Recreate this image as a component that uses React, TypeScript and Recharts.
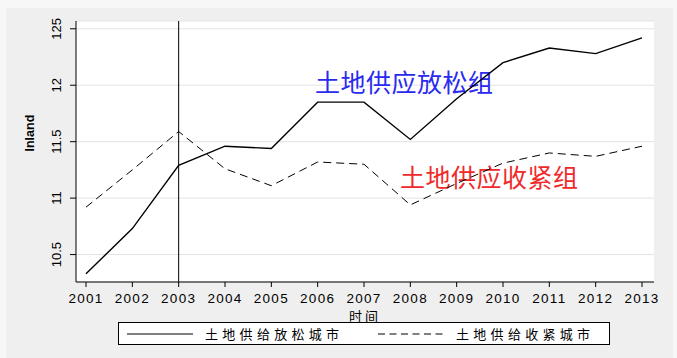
import React from "react";
import { LineChart, Line, XAxis, YAxis, CartesianGrid, ReferenceLine } from "recharts";

// 数据：年份与两组城市的 lnland 均值
const years = ["2001", "2002", "2003", "2004", "2005", "2006", "2007", "2008", "2009", "2010", "2011", "2012", "2013"];
const looseCity = [10.33, 10.73, 11.29, 11.46, 11.44, 11.85, 11.85, 11.52, 11.88, 12.2, 12.33, 12.28, 12.42];
const tightCity = [10.92, 11.25, 11.59, 11.26, 11.11, 11.32, 11.3, 10.94, 11.13, 11.31, 11.4, 11.37, 11.46];
const yTicks = [10.5, 11, 11.5, 12, 12.5];
const yTickLabels = ["10.5", "11", "11.5", "12", "125"];

const seriesNames = ["土地供给放松城市", "土地供给收紧城市"];
const groupLabels = ["土地供应放松组", "土地供应收紧组"];
const policyYear = "2003";

const chartData = years.map((year, i) => ({
  year,
  loose: looseCity[i],
  tight: tightCity[i],
}));

const tickFont = "Arial, 'Liberation Sans', sans-serif";
const cjkFont = "'Noto Sans CJK SC', sans-serif";

function XTick({ x, y, payload }: any) {
  return (
    <text x={x} y={y + 14} textAnchor="middle" fontFamily={tickFont} fontSize={13.5} letterSpacing={1.3} fill="#000">
      {payload.value}
    </text>
  );
}

function YTick({ x, y, payload }: any) {
  const idx = yTicks.indexOf(payload.value);
  const cx = x - 11;
  return (
    <text
      x={cx}
      y={y}
      textAnchor="middle"
      dominantBaseline="central"
      transform={`rotate(-90, ${cx}, ${y})`}
      fontFamily={tickFont}
      fontSize={13}
      fill="#000"
    >
      {idx >= 0 ? yTickLabels[idx] : payload.value}
    </text>
  );
}

// x 轴标题，放在刻度标签下方
function XTitle({ viewBox }: any) {
  const { x, y, width } = viewBox;
  return (
    <text x={x + width / 2} y={y + 39} textAnchor="middle" fontFamily={cjkFont} fontSize={13} letterSpacing={3} fill="#000">
      时间
    </text>
  );
}

function LegendBox() {
  return (
    <div
      style={{
        position: "absolute",
        left: 118,
        top: 322,
        width: 490,
        height: 21,
        border: "1px solid #000",
        background: "#fff",
      }}
    >
      <svg width={490} height={21} style={{ position: "absolute", left: 0, top: 0 }}>
        <line x1={8} x2={74} y1={11} y2={11} stroke="#000" strokeWidth={1.2} />
        <text x={86} y={16} fontFamily={cjkFont} fontSize={13} letterSpacing={4.3} fill="#000">
          {seriesNames[0]}
        </text>
        <line x1={259} x2={325} y1={11} y2={11} stroke="#000" strokeWidth={1} strokeDasharray="7 4.5" />
        <text x={337} y={16} fontFamily={cjkFont} fontSize={13} letterSpacing={4.3} fill="#000">
          {seriesNames[1]}
        </text>
      </svg>
    </div>
  );
}

export default function App() {
  return (
    <div style={{ position: "absolute", left: 0, top: 0, width: 677, height: 358, background: "#f7f7f7" }}>
      <div style={{ position: "absolute", left: 6, top: 8, width: 667, height: 350, background: "#efefef" }} />
      <div style={{ position: "absolute", left: 0, top: 0 }}>
        <LineChart width={677} height={358} data={chartData} margin={{ top: 21, right: 23, left: 0, bottom: 0 }}>
          <CartesianGrid vertical={false} fill="#fff" stroke="#e3e3e3" strokeWidth={1} />
          <XAxis
            dataKey="year"
            padding={{ left: 10, right: 12 }}
            stroke="#000"
            tickLine={{ stroke: "#000" }}
            tickSize={5}
            tick={<XTick />}
            interval={0}
            height={76}
            label={<XTitle />}
          />
          <YAxis
            width={76}
            domain={[10.257, 12.569]}
            ticks={yTicks}
            allowDataOverflow
            stroke="#000"
            tickLine={{ stroke: "#000" }}
            tickSize={6}
            tick={<YTick />}
            label={{
              value: "lnland",
              angle: -90,
              position: "insideLeft",
              offset: 30,
              fontFamily: tickFont,
              fontSize: 12.5,
              fontWeight: "bold",
              fill: "#000",
            }}
          />
          <ReferenceLine x={policyYear} stroke="#000" strokeWidth={1} />
          <Line
            type="linear"
            dataKey="loose"
            name={seriesNames[0]}
            stroke="#000"
            strokeWidth={1.4}
            dot={false}
            isAnimationActive={false}
          />
          <Line
            type="linear"
            dataKey="tight"
            name={seriesNames[1]}
            stroke="#000"
            strokeWidth={1}
            strokeDasharray="8 5"
            dot={false}
            isAnimationActive={false}
          />
          <text x={315} y={92} fontFamily={cjkFont} fontSize={25} letterSpacing={0.5} fill="#2a2af0">
            {groupLabels[0]}
          </text>
          <text x={400} y={187} fontFamily={cjkFont} fontSize={25} letterSpacing={0.5} fill="#f02a2a">
            {groupLabels[1]}
          </text>
        </LineChart>
      </div>
      <LegendBox />
    </div>
  );
}
